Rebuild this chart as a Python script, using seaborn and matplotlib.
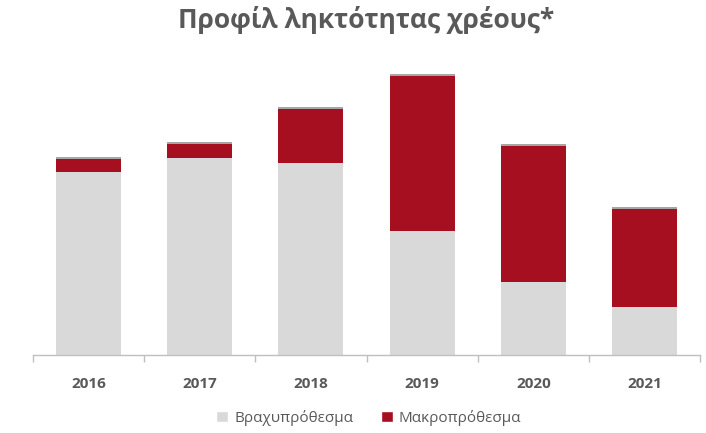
import pandas as pd
import matplotlib.pyplot as plt
import seaborn as sns
from matplotlib.patches import Patch

years = ["2016", "2017", "2018", "2019", "2020", "2021"]
short_term = [183, 197, 192, 124, 73, 48]
long_term = [13, 14, 54, 155, 136, 98]
other = [2, 2, 2, 2, 2, 2]

GRAY = "#d9d9d9"
RED = "#a50f1f"
DARK = "#a6a6a6"
TEXT = "#595959"

sns.set_theme(style="white")
plt.rcParams["font.family"] = ["Open Sans", "DejaVu Sans"]

df = pd.DataFrame({"year": years, "short": short_term, "long": long_term, "other": other})
df["s1"] = df["short"]
df["s2"] = df["short"] + df["long"]
df["s3"] = df["s2"] + df["other"]

fig = plt.figure(figsize=(7.06, 4.33), dpi=100)
ax = fig.add_axes([0.0467, 0.180, 0.945, 0.681])

w = 0.585
for col, c in [("s3", DARK), ("s2", RED), ("s1", GRAY)]:
    sns.barplot(data=df, x="year", y=col, color=c, width=w, saturation=1,
                linewidth=0, ax=ax)

ax.set_xlim(-0.5, len(years) - 0.5)
ax.set_ylim(0, 295)
ax.set_xlabel("")
ax.set_ylabel("")
ax.set_yticks([])
for side in ["top", "right", "left"]:
    ax.spines[side].set_visible(False)
ax.spines["bottom"].set_color("#bfbfbf")
ax.spines["bottom"].set_linewidth(1)

ax.set_xticks(range(len(years)))
ax.set_xticklabels(years, fontsize=11, fontweight="bold", color=TEXT)
ax.tick_params(axis="x", which="major", length=0, pad=16)
ax.set_xticks([i - 0.5 for i in range(len(years) + 1)], minor=True)
ax.tick_params(axis="x", which="minor", length=5, width=1, color="#bfbfbf", bottom=True)

fig.suptitle("Προφίλ ληκτότητας χρέους*", x=0.518, y=0.985, fontsize=19,
             fontweight="bold", color=TEXT)

handles = [Patch(facecolor=GRAY, label="Βραχυπρόθεσμα"),
           Patch(facecolor=RED, label="Μακροπρόθεσμα")]
fig.legend(handles=handles, loc="center", bbox_to_anchor=(0.522, 0.035), ncol=2,
           frameon=False, fontsize=11, labelcolor=TEXT, handlelength=0.8,
           handleheight=0.8, handletextpad=0.4, columnspacing=1.8)

fig.savefig("out.png", dpi=100)
